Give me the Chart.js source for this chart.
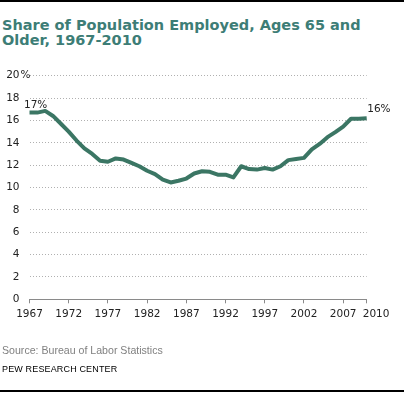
<!DOCTYPE html>
<html lang="en">
<head>
    <meta charset="UTF-8">
    <title>Share of Population Employed, Ages 65 and Older, 1967-2010</title>
    <script src="https://cdn.jsdelivr.net/npm/chart.js"></script>
    <style>
        body { margin: 0; background: #fff; }
        .wrap { position: relative; width: 406px; height: 393px; overflow: hidden; }
        .rule { position: absolute; left: 0; width: 404px; height: 2px; background: #000; }
        .title {
            position: absolute; left: 2px; top: 17.5px;
            font: bold 14.5px/15.6px "DejaVu Sans", sans-serif;
            color: #3d7d76; white-space: nowrap;
        }
        .source {
            position: absolute; left: 2px; top: 344px;
            font: 10.6px "Liberation Sans", Arial, sans-serif; color: #808080;
        }
        .credit {
            position: absolute; left: 2px; top: 364px;
            font: 9px "Liberation Sans", Arial, sans-serif; color: #000;
            letter-spacing: 0.15px;
        }
        canvas { position: absolute; left: 0; top: 0; }
    </style>
</head>
<body>
<div class="wrap">
    <div class="rule" style="top:0"></div>
    <div class="title">Share of Population Employed, Ages 65 and<br>Older, 1967-2010</div>
    <canvas id="chart" width="406" height="393"></canvas>
    <div class="source">Source: Bureau of Labor Statistics</div>
    <div class="credit">PEW RESEARCH CENTER</div>
    <div class="rule" style="top:390px"></div>
</div>

<script>
    // data (percent of people 65+ who are employed)
    const years = [1967, 1968, 1969, 1970, 1971, 1972, 1973, 1974, 1975, 1976,
                   1977, 1978, 1979, 1980, 1981, 1982, 1983, 1984, 1985, 1986,
                   1987, 1988, 1989, 1990, 1991, 1992, 1993, 1994, 1995, 1996,
                   1997, 1998, 1999, 2000, 2001, 2002, 2003, 2004, 2005, 2006,
                   2007, 2008, 2009, 2010];
    const shares = [16.7, 16.7, 16.85, 16.4, 15.7, 15.0, 14.2, 13.5, 13.0, 12.4,
                    12.3, 12.6, 12.5, 12.2, 11.9, 11.5, 11.2, 10.7, 10.45, 10.6,
                    10.8, 11.25, 11.45, 11.4, 11.15, 11.15, 10.9, 11.9, 11.65, 11.6,
                    11.75, 11.6, 11.9, 12.45, 12.55, 12.65, 13.4, 13.9, 14.5, 14.95,
                    15.45, 16.15, 16.15, 16.2];
    const xTicks = [1967, 1972, 1977, 1982, 1987, 1992, 1997, 2002, 2007, 2010];
    const yTicks = [0, 2, 4, 6, 8, 10, 12, 14, 16, 18, 20];

    const lineColor = '#3b7664';
    const labelFont = '10.5px "DejaVu Sans", sans-serif';

    // axis labels: y numbers right-aligned with "%" hanging after the top one,
    // x years centred under ticks except the last which sits past its tick
    const axisLabels = {
        id: 'axisLabels',
        afterDraw(chart) {
            const ctx = chart.ctx;
            const y = chart.scales.y;
            const x = chart.scales.x;
            ctx.save();
            ctx.font = labelFont;
            ctx.fillStyle = '#222';
            ctx.textBaseline = 'middle';
            yTicks.forEach(v => {
                const py = y.getPixelForValue(v);
                ctx.textAlign = 'right';
                ctx.fillText(String(v), 19.5, py);
                if (v === yTicks[yTicks.length - 1]) {
                    ctx.textAlign = 'left';
                    ctx.fillText('%', 20.5, py);
                }
            });
            const ly = x.bottom - x.height + 14.5;
            xTicks.forEach((v, i) => {
                const px = x.getPixelForValue(v);
                if (i === xTicks.length - 1) {
                    ctx.textAlign = 'left';
                    ctx.fillText(String(v), px - 4, ly);
                } else {
                    ctx.textAlign = 'center';
                    ctx.fillText(String(v), px, ly);
                }
            });
            ctx.restore();
        }
    };

    // first and last value labels
    const endLabels = {
        id: 'endLabels',
        afterDatasetsDraw(chart) {
            const ctx = chart.ctx;
            const pts = chart.getDatasetMeta(0).data;
            const first = pts[0], last = pts[pts.length - 1];
            ctx.save();
            ctx.font = labelFont;
            ctx.fillStyle = '#222';
            ctx.textBaseline = 'alphabetic';
            ctx.textAlign = 'left';
            ctx.fillText(Math.round(shares[0]) + '%', first.x - 5.5, first.y - 5);
            ctx.fillText(Math.round(shares[shares.length - 1]) + '%', last.x + 0.5, last.y - 6);
            ctx.restore();
        }
    };

    new Chart(document.getElementById('chart'), {
        type: 'line',
        data: {
            datasets: [{
                data: years.map((yr, i) => ({ x: yr, y: shares[i] })),
                borderColor: lineColor,
                borderWidth: 4,
                pointRadius: 0,
                tension: 0,
                borderJoinStyle: 'round',
                clip: false
            }]
        },
        options: {
            responsive: false,
            animation: false,
            layout: { padding: { left: 0, right: 39.3, top: 75.7, bottom: 73.7 } },
            plugins: { legend: { display: false }, tooltip: { enabled: false } },
            scales: {
                x: {
                    type: 'linear',
                    min: 1967,
                    max: 2010,
                    afterBuildTicks: s => { s.ticks = xTicks.map(v => ({ value: v })); },
                    afterFit: s => { s.height = 20; },
                    ticks: { display: false },
                    grid: { drawOnChartArea: false, drawTicks: true, tickLength: 4, tickColor: '#8a8a8a' },
                    border: { display: true, color: '#8a8a8a', width: 1 }
                },
                y: {
                    min: 0,
                    max: 20,
                    afterBuildTicks: s => { s.ticks = yTicks.map(v => ({ value: v })); },
                    afterFit: s => { s.width = 29.5; },
                    ticks: { display: false },
                    grid: {
                        drawTicks: false,
                        color: ctx => ctx.tick && ctx.tick.value === 0 ? 'rgba(0,0,0,0)' : '#b0b0b0'
                    },
                    border: { display: false, dash: [1, 2] }
                }
            }
        },
        plugins: [axisLabels, endLabels]
    });
</script>
</body>
</html>
